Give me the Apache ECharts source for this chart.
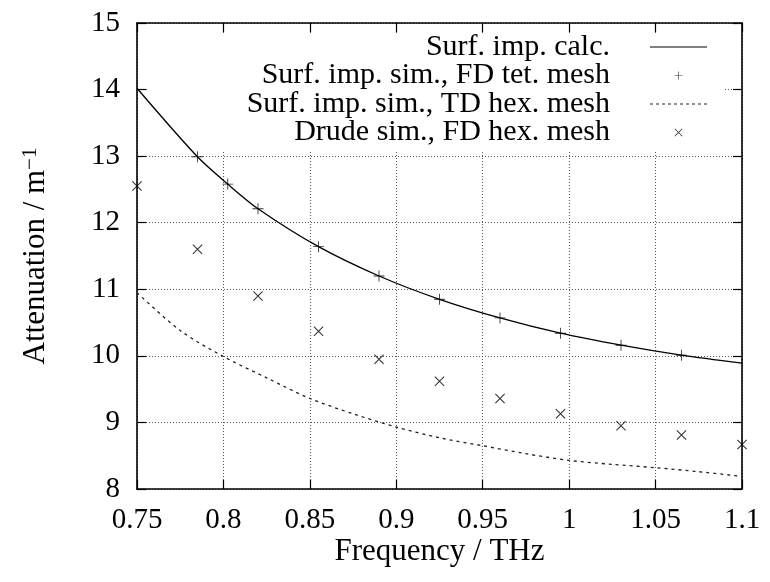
<!DOCTYPE html>
<html>
<head>
<meta charset="utf-8">
<script src="https://cdn.jsdelivr.net/npm/echarts@6/dist/echarts.min.js"></script>
<style>html,body{margin:0;padding:0;background:#fff;}#c{width:770px;height:582px;}</style>
</head>
<body>
<div id="c"></div>
<script>
// ---- data ----
const seriesNames = ['Surf. imp. calc.', 'Surf. imp. sim., FD tet. mesh', 'Surf. imp. sim., TD hex. mesh', 'Drude sim., FD hex. mesh'];

const freqCalc = [0.75, 0.785, 0.8025, 0.82, 0.855, 0.89, 0.925, 0.96, 0.995, 1.03, 1.065, 1.1];
const attCalc  = [14.02, 12.99, 12.58, 12.21, 11.64, 11.20, 10.85, 10.57, 10.34, 10.16, 10.01, 9.89];

const freqTet = [0.785, 0.8025, 0.82, 0.855, 0.89, 0.925, 0.96, 0.995, 1.03, 1.065];
const attTet  = [12.99, 12.58, 12.21, 11.64, 11.20, 10.85, 10.57, 10.34, 10.16, 10.01];

const freqTD = [0.75, 0.775, 0.8, 0.825, 0.85, 0.875, 0.9, 0.925, 0.95, 0.975, 1.0, 1.025, 1.05, 1.075, 1.1];
const attTD  = [10.95, 10.38, 9.99, 9.67, 9.36, 9.13, 8.93, 8.77, 8.65, 8.53, 8.43, 8.37, 8.32, 8.26, 8.19];

const freqDrude = [0.75, 0.785, 0.82, 0.855, 0.89, 0.925, 0.96, 0.995, 1.03, 1.065, 1.1];
const attDrude  = [12.55, 11.60, 10.90, 10.37, 9.95, 9.62, 9.36, 9.13, 8.95, 8.81, 8.67];

const xTickLabels = ['0.75', '0.8', '0.85', '0.9', '0.95', '1', '1.05', '1.1'];
const yTickLabels = ['8', '9', '10', '11', '12', '13', '14', '15'];

// ---- helpers ----
const zip = (xs, ys) => xs.map((x, i) => [x, ys[i]]);
const FONT = 'Liberation Serif';
const PLUS = 'path://M-0.08,-1L0.08,-1L0.08,-0.08L1,-0.08L1,0.08L0.08,0.08L0.08,1L-0.08,1L-0.08,0.08L-1,0.08L-1,-0.08L-0.08,-0.08Z';
const CROSS = 'path://M-1,-0.85L-0.85,-1L1,0.85L0.85,1ZM0.85,-1L1,-0.85L-0.85,1L-1,0.85Z';
// legend icons for the two curves (thin solid bar / dashed bar)
const SOLID_ICON = 'path://M0,0L57,0L57,1.2L0,1.2Z';
let dashIcon = 'path://';
for (let i = 0; i < 10; i++) {
  const a = i * 6, b = Math.min(a + 3, 57);
  dashIcon += 'M' + a + ',0L' + b + ',0L' + b + ',1.2L' + a + ',1.2Z';
}
dashIcon += 'M56.9,0L57,0L57,0.01L56.9,0.01Z';
const DASH_ICON = dashIcon;

const G = {left: 137, right: 28, top: 23, bottom: 93};

const chart = echarts.init(document.getElementById('c'), null, {renderer: 'canvas'});

const gridLine = {show: true, lineStyle: {color: '#555', width: 1, type: [1, 2]}};
const frame = {show: true, onZero: false, lineStyle: {color: '#000', width: 1.6}};
const ticks = {show: true, inside: true, length: 9, lineStyle: {color: '#000', width: 1.2}};

const xLabelFmt = v => {
  const i = Math.round((v - 0.75) / 0.05);
  return xTickLabels[i] !== undefined ? xTickLabels[i] : '';
};
const yLabelFmt = v => {
  const i = Math.round(v - 8);
  return yTickLabels[i] !== undefined ? yTickLabels[i] : '';
};

chart.setOption({
  animation: false,
  backgroundColor: '#fff',
  grid: {left: G.left, right: G.right, top: G.top, bottom: G.bottom, containLabel: false},
  xAxis: [
    {
      type: 'value', min: 0.75, max: 1.1, interval: 0.05, position: 'bottom',
      axisLine: frame, axisTick: ticks, splitLine: gridLine,
      axisLabel: {show: true, margin: 17, color: '#000', fontFamily: FONT, fontSize: 29, formatter: xLabelFmt, showMinLabel: true, showMaxLabel: true},
      name: 'Frequency / THz', nameLocation: 'middle', nameGap: 47, nameMoveOverlap: false,
      nameTextStyle: {color: '#000', fontFamily: FONT, fontSize: 31}
    },
    {
      type: 'value', min: 0.75, max: 1.1, interval: 0.05, position: 'top',
      axisLine: frame, axisTick: ticks, splitLine: {show: false}, axisLabel: {show: false}
    }
  ],
  yAxis: [
    {
      type: 'value', min: 8, max: 15, interval: 1, position: 'left',
      axisLine: frame, axisTick: ticks, splitLine: gridLine,
      axisLabel: {show: true, margin: 17, color: '#000', fontFamily: FONT, fontSize: 29, formatter: yLabelFmt},
      name: 'Attenuation / m{sup|\u22121}', nameLocation: 'middle', nameRotate: 90, nameGap: 86,
      nameTextStyle: {color: '#000', fontFamily: FONT, fontSize: 31,
        rich: {sup: {fontFamily: FONT, fontSize: 21, verticalAlign: 'top', color: '#000'}}}
    },
    {
      type: 'value', min: 8, max: 15, interval: 1, position: 'right',
      axisLine: frame, axisTick: ticks, splitLine: {show: false}, axisLabel: {show: false}
    }
  ],
  legend: {
    orient: 'vertical', left: 180, top: 32, padding: 0, itemGap: -1.5,
    align: 'right', itemWidth: 57, itemHeight: 8, selectedMode: false,
    data: [
      {name: seriesNames[0], icon: SOLID_ICON},
      {name: seriesNames[1], icon: PLUS},
      {name: seriesNames[2], icon: DASH_ICON},
      {name: seriesNames[3], icon: CROSS}
    ],
    formatter: n => '{a|' + n + '}{g| }',
    textStyle: {
      color: '#000', fontFamily: FONT, fontSize: 30,
      rich: {
        a: {width: 430, align: 'right', fontFamily: FONT, fontSize: 30, lineHeight: 28, color: '#000'},
        g: {width: 35, align: 'right', fontSize: 30, lineHeight: 28}
      }
    }
  },
  graphic: [
    {type: 'rect', z: 1, silent: true,
     shape: {x: G.left + 10, y: G.top + 10, width: 724 - G.left - 10, height: 150 - G.top - 10},
     style: {fill: '#fff'}}
  ],
  series: [
    {
      name: seriesNames[0], type: 'line', data: zip(freqCalc, attCalc),
      smooth: 0.3, showSymbol: false, symbol: 'none', z: 3,
      lineStyle: {color: '#000', width: 1.3}, itemStyle: {color: '#000'}
    },
    {
      name: seriesNames[1], type: 'scatter', data: zip(freqTet, attTet),
      symbol: PLUS, symbolSize: 11, clip: false, z: 4,
      itemStyle: {color: '#000'}
    },
    {
      name: seriesNames[2], type: 'line', data: zip(freqTD, attTD),
      smooth: 0.3, showSymbol: false, symbol: 'none', z: 3,
      lineStyle: {color: '#222', width: 1.3, type: [3, 4]}, itemStyle: {color: '#222'}
    },
    {
      name: seriesNames[3], type: 'scatter', data: zip(freqDrude, attDrude),
      symbol: CROSS, symbolSize: 10, clip: false, z: 4,
      itemStyle: {color: '#000'}
    }
  ]
});
</script>
</body>
</html>
